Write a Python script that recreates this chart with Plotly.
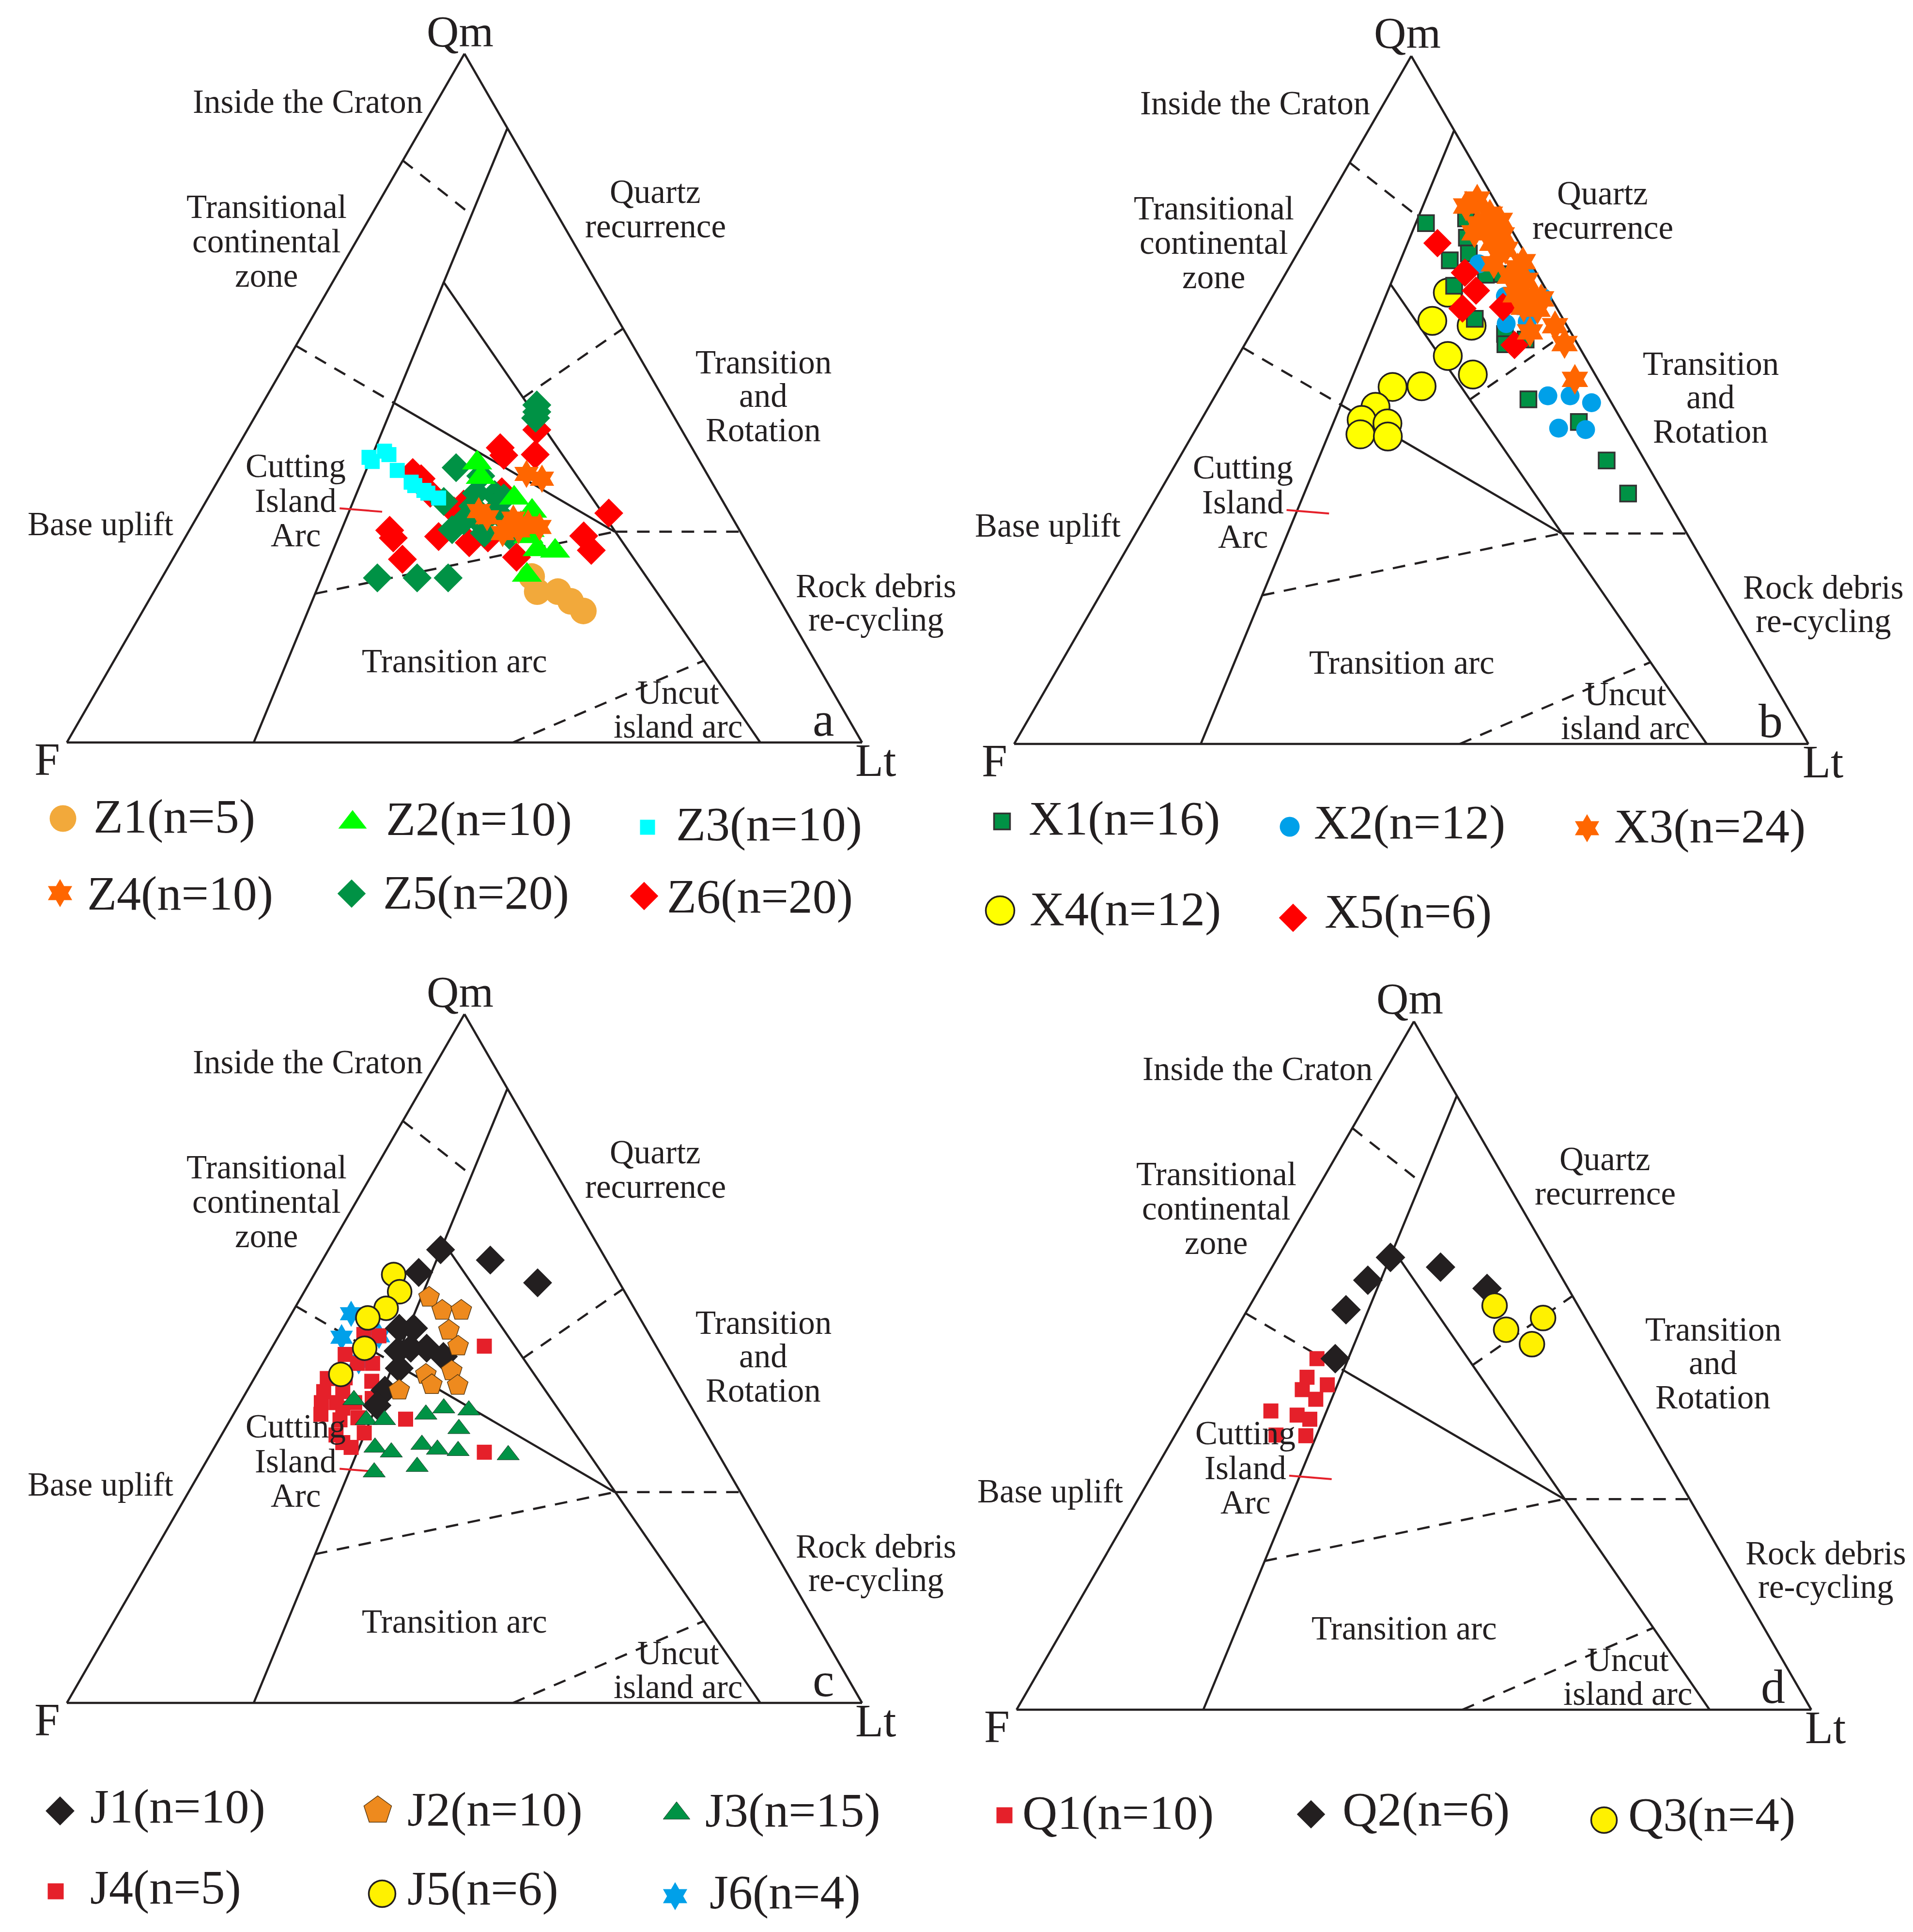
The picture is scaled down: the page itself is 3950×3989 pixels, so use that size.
import math
import plotly.graph_objects as go

W, H = 3950, 3989
FONT = "Liberation Serif"
INK = "#231f20"

# ---------------- data: Qm, F, Lt (%) ----------------
# panel a
Z1_Qm = [24.1, 21.9, 21.9, 20.5, 19.1]
Z1_F = [29.5, 29.9, 27.3, 26.4, 25.5]
Z1_Lt = [46.4, 48.2, 50.8, 53.1, 55.4]

Z2_Qm = [40.6, 38.5, 35.5, 33.6, 29.9, 28.0, 27.8, 24.3, 31.8, 30.8]
Z2_F = [28.1, 28.7, 26.0, 24.7, 27.0, 26.8, 24.7, 30.0, 27.0, 26.4]
Z2_Lt = [31.3, 32.8, 38.5, 41.7, 43.1, 45.2, 47.5, 45.7, 41.2, 42.8]

Z3_Qm = [41.4, 42.3, 39.5, 37.8, 36.6, 35.5, 40.8, 41.8, 37.3, 36.2]
Z3_F = [41.3, 38.9, 38.7, 37.8, 36.8, 35.5, 41.2, 38.6, 37.6, 36.5]
Z3_Lt = [17.3, 18.8, 21.8, 24.4, 26.6, 29.0, 18.0, 19.6, 25.1, 27.3]

Z4_Qm = [39.0, 38.3, 33.6, 32.5, 31.3, 31.8, 31.3, 30.4, 30.8, 32.7]
Z4_F = [22.7, 21.1, 31.4, 27.6, 29.1, 26.1, 24.9, 30.0, 27.8, 30.8]
Z4_Lt = [38.3, 40.6, 35.0, 39.9, 39.6, 42.1, 43.8, 39.6, 41.4, 36.5]

Z5_Qm = [49.0, 47.1, 39.9, 38.7, 36.2, 36.0, 35.0, 33.6, 30.9, 31.8,
         30.1, 23.9, 23.9, 23.9, 34.3, 35.5, 30.4, 32.2, 32.2, 48.0]
Z5_F = [16.4, 17.5, 31.1, 28.6, 30.4, 28.2, 35.1, 29.5, 36.1, 32.0,
        29.3, 49.0, 44.0, 40.1, 31.8, 27.3, 32.3, 34.0, 28.7, 16.9]
Z5_Lt = [34.6, 35.4, 29.0, 32.7, 33.4, 35.8, 29.9, 36.9, 33.0, 36.2,
         40.6, 27.1, 32.1, 36.0, 33.9, 37.2, 37.3, 33.8, 39.1, 35.1]

Z6_Qm = [45.4, 42.8, 41.7, 41.8, 39.2, 36.2, 34.6, 36.4, 33.3, 30.8,
         29.7, 29.9, 29.0, 29.7, 26.6, 26.9, 30.0, 27.9, 38.3, 33.6]
Z6_F = [18.2, 24.1, 24.2, 20.2, 36.9, 36.2, 32.8, 27.1, 15.2, 44.0,
        44.1, 38.3, 34.9, 32.2, 44.5, 30.0, 20.0, 20.1, 36.3, 34.5]
Z6_Lt = [36.4, 33.1, 34.1, 38.0, 23.9, 27.6, 32.6, 36.5, 51.5, 25.2,
         26.2, 31.8, 36.1, 38.1, 28.9, 43.1, 50.0, 52.0, 25.4, 31.9]

# panel b
X1_Qm = [75.7, 76.4, 73.6, 71.3, 70.3, 66.6, 61.8, 59.6, 58.1, 58.8, 68.3, 50.1, 46.8, 41.2, 36.4, 68.2]
X1_F = [10.3, 4.9, 6.2, 7.1, 10.0, 11.3, 11.1, 8.4, 9.1, 6.2, 4.7, 10.2, 5.5, 4.8, 4.5, 6.5]
X1_Lt = [14.0, 18.7, 20.2, 21.6, 19.7, 22.1, 27.1, 32.0, 32.8, 35.0, 27.0, 39.7, 47.7, 54.0, 59.1, 25.3]

X2_Qm = [69.8, 65.1, 68.2, 64.9, 61.1, 61.4, 50.6, 50.6, 49.6, 45.9, 45.7, 63.7]
X2_F = [6.6, 5.6, 1.5, 1.0, 7.5, 4.7, 7.5, 4.7, 2.5, 8.5, 5.2, 4.7]
X2_Lt = [23.6, 29.3, 30.3, 34.1, 31.4, 33.9, 41.9, 44.7, 47.9, 45.6, 49.1, 31.6]

X3_Qm = [79.2, 78.2, 77.0, 75.6, 74.3, 74.8, 72.8, 71.9, 69.8, 68.0, 70.1, 67.4,
         65.3, 65.1, 63.2, 63.5, 59.9, 60.8, 58.2, 53.0, 76.1, 74.0, 69.2, 64.7]
X3_F = [2.1, 4.0, 1.6, 3.8, 4.9, 2.7, 3.4, 2.2, 4.7, 3.6, 0.9, 1.9,
        4.2, 2.0, 2.5, 4.1, 5.1, 1.5, 1.6, 2.9, 0.8, 1.6, 2.0, 1.3]
X3_Lt = [18.7, 17.8, 21.4, 20.6, 20.8, 22.5, 23.8, 25.9, 25.5, 28.4, 29.0, 30.7,
         30.5, 32.9, 34.3, 32.4, 35.0, 37.7, 40.2, 44.1, 23.1, 24.4, 28.8, 34.0]

X4_Qm = [65.6, 61.5, 60.8, 56.4, 53.7, 51.9, 52.0, 49.0, 47.1, 46.6, 45.0, 44.7]
X4_F = [12.6, 16.6, 12.0, 17.2, 15.4, 26.4, 22.7, 30.0, 32.7, 29.7, 33.9, 30.6]
X4_Lt = [21.8, 21.9, 27.2, 26.4, 30.9, 21.7, 25.3, 21.0, 20.2, 23.7, 21.1, 24.7]

X5_Qm = [72.8, 68.5, 65.9, 63.3, 63.5, 58.0]
X5_F = [10.3, 9.0, 8.9, 11.9, 6.7, 8.0]
X5_Lt = [16.9, 22.5, 25.2, 24.8, 29.8, 34.0]

# panel c
J1_Qm = [65.8, 64.3, 61.0, 62.5, 54.4, 54.4, 51.1, 51.5, 51.5, 50.3, 48.6, 45.4, 43.2]
J1_F = [20.1, 14.6, 10.3, 24.5, 31.0, 29.2, 32.8, 31.0, 29.0, 27.5, 33.9, 37.3, 39.4]
J1_Lt = [14.1, 21.1, 28.7, 13.0, 14.6, 16.4, 16.1, 17.5, 19.5, 22.2, 17.5, 17.3, 17.4]

J2_Qm = [58.9, 57.0, 57.0, 54.1, 51.8, 47.7, 48.2, 46.2, 46.1, 45.4]
J2_F = [25.0, 24.3, 21.9, 24.9, 24.9, 31.0, 27.5, 31.0, 27.8, 35.5]
J2_Lt = [16.1, 18.7, 21.1, 21.0, 23.3, 21.3, 24.3, 22.8, 26.1, 19.1]

J3_Qm = [44.0, 41.1, 41.1, 41.9, 42.8, 42.5, 39.8, 37.1, 36.4, 37.5, 36.8, 36.6, 36.0, 34.3, 33.5]
J3_F = [41.9, 41.8, 39.5, 33.9, 31.2, 28.2, 30.8, 42.7, 41.0, 36.6, 35.0, 32.5, 26.5, 38.8, 44.6]
J3_Lt = [14.1, 17.1, 19.4, 24.2, 26.0, 29.3, 29.4, 20.2, 22.6, 25.9, 28.2, 30.9, 37.5, 26.9, 21.9]

J4_Qm = [53.5, 53.3, 50.6, 49.3, 49.3, 47.1, 47.2, 43.6, 43.6, 43.6, 41.9, 41.1, 41.4,
         38.9, 37.1, 41.2, 51.8, 36.4, 46.7, 45.2, 42.8, 39.2, 45.2, 44.2, 37.8]
J4_F = [35.9, 34.1, 39.7, 38.8, 36.9, 43.7, 41.4, 46.2, 44.3, 42.0, 47.1, 45.1, 42.7,
        46.7, 45.7, 36.8, 21.6, 29.3, 38.3, 42.7, 43.9, 43.0, 45.1, 39.5, 46.4]
J4_Lt = [10.6, 12.6, 9.7, 11.9, 13.8, 9.2, 11.4, 10.2, 12.1, 14.4, 11.0, 13.8, 15.9,
         14.4, 17.2, 22.0, 26.6, 34.3, 15.0, 12.1, 13.3, 17.8, 9.7, 16.3, 15.8]

J5_Qm = [62.2, 59.7, 57.3, 55.9, 51.5, 47.7]
J5_F = [27.8, 28.3, 31.2, 34.2, 36.8, 41.7]
J5_Lt = [10.0, 12.0, 11.5, 9.9, 11.7, 10.6]

J6_Qm = [56.5, 53.1, 53.3, 49.6]
J6_F = [36.0, 38.9, 34.1, 38.5]
J6_Lt = [7.5, 8.0, 12.6, 11.9]

# panel d
Q1_Qm = [51.0, 48.3, 47.2, 46.5, 45.1, 43.4, 42.8, 42.2, 39.9, 39.8]
Q1_F = [36.7, 39.3, 37.3, 40.8, 39.8, 46.3, 43.3, 42.0, 47.4, 43.7]
Q1_Lt = [12.3, 12.4, 15.5, 12.7, 15.1, 10.3, 13.9, 15.8, 12.7, 16.5]

Q2_Qm = [65.7, 62.4, 58.1, 51.0, 64.3, 61.2]
Q2_F = [20.1, 24.6, 29.5, 34.4, 14.5, 10.2]
Q2_Lt = [14.2, 13.0, 12.4, 14.6, 21.2, 28.6]

Q3_Qm = [58.7, 56.9, 55.2, 53.1]
Q3_F = [10.5, 5.3, 10.8, 8.6]
Q3_Lt = [30.8, 37.8, 34.0, 38.3]

# ---------------- field boundaries of the Qm-F-Lt template (%) ----------------
BND_QM = [[89.2, 0.0], [66.9, 0.0], [49.3, 30.6], [57.6, 49.3], [30.6, 30.6],
          [84.5, 76.6], [50.0, 60.1], [21.6, 30.6], [0.0, 11.9]]
BND_F = [[0.0, 76.5], [19.2, 12.8], [34.2, 15.8], [42.4, 34.2], [15.8, 0.0],
         [15.5, 10.8], [17.7, 0.0], [58.0, 15.8], [43.9, 13.9]]
BND_LT = [[10.8, 23.5], [13.9, 87.2], [16.5, 53.6], [0.0, 16.5], [53.6, 69.4],
          [0.0, 12.6], [32.3, 39.9], [20.4, 53.6], [56.1, 74.2]]
BND_DASHED = [False, False, False, True, True, True, True, True, True]

POINTER_QM = [34.0, 33.5]
POINTER_F = [48.7, 43.6]
POINTER_LT = [17.3, 22.9]

# ---------------- layout constants ----------------
PANELS = {
    "a": dict(key="ternary", F=(130, 1525), S=1642),
    "b": dict(key="ternary2", F=(2086, 1528), S=1640),
    "c": dict(key="ternary3", F=(130, 3508), S=1642),
    "d": dict(key="ternary4", F=(2091, 3522), S=1641),
}

# series: name, data, symbol, plot size, color, outline color, outline width,
#         legend marker position, legend text position, legend marker size
SERIES = {
    "a": [
        ("Z1(n=5)", (Z1_Qm, Z1_F, Z1_Lt), "circle", 55, "#F2A93B", None, 0, (122, 1682), (183, 1677), 55),
        ("Z6(n=20)", (Z6_Qm, Z6_F, Z6_Lt), "diamond", 46, "#FF0000", None, 0, (1322, 1842), (1367, 1842), 45),
        ("Z5(n=20)", (Z5_Qm, Z5_F, Z5_Lt), "diamond", 46, "#009245", None, 0, (718, 1837), (781, 1835), 45),
        ("Z3(n=10)", (Z3_Qm, Z3_F, Z3_Lt), "square", 31, "#00FFFF", None, 0, (1329, 1700), (1386, 1693), 31),
        ("Z2(n=10)", (Z2_Qm, Z2_F, Z2_Lt), "triangle-up", 54, "#00FF00", None, 0, (720, 1690), (787, 1683), 51),
        ("Z4(n=10)", (Z4_Qm, Z4_F, Z4_Lt), "hexagram", 44, "#FF6600", None, 0, (116, 1836), (170, 1836), 44),
    ],
    "b": [
        ("X4(n=12)", (X4_Qm, X4_F, X4_Lt), "circle", 58, "#FFFF00", INK, 3.5, (2057, 1872), (2116, 1868), 59),
        ("X1(n=16)", (X1_Qm, X1_F, X1_Lt), "square", 33, "#009245", "#333333", 3.5, (2061, 1688), (2114, 1681), 33),
        ("X2(n=12)", (X2_Qm, X2_F, X2_Lt), "circle", 39, "#00A0E9", None, 0, (2655, 1699), (2703, 1689), 41),
        ("X5(n=6)", (X5_Qm, X5_F, X5_Lt), "diamond", 45, "#FF0000", None, 0, (2662, 1887), (2725, 1873), 45),
        ("X3(n=24)", (X3_Qm, X3_F, X3_Lt), "hexagram", 48, "#FF6600", None, 0, (3269, 1702), (3323, 1697), 44),
    ],
    "c": [
        ("J6(n=4)", (J6_Qm, J6_F, J6_Lt), "hexagram", 41, "#00A0E9", None, 0, (1386, 3907), (1455, 3898), 44),
        ("J4(n=5)", (J4_Qm, J4_F, J4_Lt), "square", 31, "#E5202A", None, 0, (107, 3897), (176, 3888), 33),
        ("J5(n=6)", (J5_Qm, J5_F, J5_Lt), "circle", 49, "#FFF100", INK, 3.5, (781, 3902), (831, 3890), 55),
        ("J1(n=10)", (J1_Qm, J1_F, J1_Lt), "diamond", 46, INK, None, 0, (116, 3731), (176, 3721), 46),
        ("J2(n=10)", (J2_Qm, J2_F, J2_Lt), "pentagon", 45, "#EE8A1E", "#5a3a12", 1.5, (772, 3730), (831, 3727), 60),
        ("J3(n=15)", (J3_Qm, J3_F, J3_Lt), "triangle-up", 40, "#009245", "#1d3b2a", 1, (1389, 3736), (1446, 3729), 48),
    ],
    "d": [
        ("Q1(n=10)", (Q1_Qm, Q1_F, Q1_Lt), "square", 31, "#E5202A", None, 0, (2066, 3740), (2101, 3734), 33),
        ("Q2(n=6)", (Q2_Qm, Q2_F, Q2_Lt), "diamond", 47, INK, None, 0, (2699, 3738), (2762, 3727), 45),
        ("Q3(n=4)", (Q3_Qm, Q3_F, Q3_Lt), "circle", 51, "#FFF100", INK, 3.5, (3304, 3750), (3352, 3738), 53),
    ],
}

# text labels of the template, offsets from the F corner (px)
LABELS = [
    ("Qm", 812, -1468, 92),
    ("Inside the Craton", 497, -1323, 69),
    ("Transitional", 412, -1106, 69), ("continental", 412, -1035, 69), ("zone", 412, -964, 69),
    ("Quartz", 1215, -1137, 69), ("recurrence", 1215, -1066, 69),
    ("Transition", 1438, -785, 69), ("and", 1438, -716, 69), ("Rotation", 1438, -645, 69),
    ("Cutting", 472, -571, 69), ("Island", 472, -499, 69), ("Arc", 472, -428, 69),
    ("Base uplift", 69, -451, 69),
    ("Rock debris", 1671, -323, 69), ("re-cycling", 1671, -254, 69),
    ("Transition arc", 800, -168, 69),
    ("Uncut", 1262, -103, 69), ("island arc", 1262, -33, 69),
    ("F", -41, 35, 95), ("Lt", 1670, 37, 95),
]
LETTER_OFFSET = (1562, -48, 100)

LINE_W = 4.5
DASH = "26px,20px"

# ---------------- build figure ----------------
fig = go.Figure()

axis_style = dict(showline=True, linecolor=INK, linewidth=LINE_W, showgrid=False,
                  showticklabels=False, ticks="", title=dict(text=""), min=0,
                  layer="below traces")


def tern_domain(Fx, Fy, S):
    h = S * math.sqrt(3) / 2
    return dict(x=[Fx / W, (Fx + S) / W], y=[1 - Fy / H, 1 - (Fy - h) / H])


annotations = []


def add_text(text, px, py, size, xanchor="center"):
    annotations.append(dict(text=text, x=px / W, y=1 - py / H, xref="paper", yref="paper",
                            showarrow=False, xanchor=xanchor, yanchor="middle",
                            font=dict(family=FONT, size=size, color=INK)))


for letter, P in PANELS.items():
    key = P["key"]
    Fx, Fy = P["F"]
    S = P["S"]
    fig.update_layout({key: dict(domain=tern_domain(Fx, Fy, S), sum=100,
                                 bgcolor="rgba(0,0,0,0)",
                                 aaxis=axis_style, baxis=axis_style, caxis=axis_style)})
    # field boundaries
    for qm, f, lt, dashed in zip(BND_QM, BND_F, BND_LT, BND_DASHED):
        fig.add_trace(go.Scatterternary(
            a=qm, b=f, c=lt, mode="lines", subplot=key, showlegend=False,
            hoverinfo="skip", cliponaxis=False,
            line=dict(color=INK, width=LINE_W, dash=DASH if dashed else "solid")))
    fig.add_trace(go.Scatterternary(
        a=POINTER_QM, b=POINTER_F, c=POINTER_LT, mode="lines", subplot=key,
        showlegend=False, hoverinfo="skip", cliponaxis=False,
        line=dict(color="#E5202A", width=4)))
    # data series
    for (name, (qm, f, lt), sym, size, color, lcol, lw, lpos, tpos, lsize) in SERIES[letter]:
        mline = dict(color=lcol, width=lw) if lcol else dict(width=0)
        fig.add_trace(go.Scatterternary(
            a=qm, b=f, c=lt, mode="markers", subplot=key, name=name, showlegend=False,
            cliponaxis=False,
            marker=dict(symbol=sym, size=size, color=color, line=mline, opacity=1)))
        # legend key (drawn on an overlay pixel axis)
        fig.add_trace(go.Scatter(
            x=[lpos[0]], y=[lpos[1]], mode="markers", showlegend=False, hoverinfo="skip",
            xaxis="x", yaxis="y", cliponaxis=False,
            marker=dict(symbol=sym, size=lsize, color=color, line=mline)))
        add_text(name, tpos[0], tpos[1], 100, xanchor="left")
    # template labels
    for text, dx, dy, size in LABELS:
        add_text(text, Fx + dx, Fy + dy, size)
    add_text(letter, Fx + LETTER_OFFSET[0], Fy + LETTER_OFFSET[1], LETTER_OFFSET[2])

fig.update_layout(
    width=W, height=H, autosize=False,
    margin=dict(l=0, r=0, t=0, b=0, pad=0),
    paper_bgcolor="white", plot_bgcolor="rgba(0,0,0,0)",
    showlegend=False,
    xaxis=dict(domain=[0, 1], range=[0, W], visible=False, fixedrange=True),
    yaxis=dict(domain=[0, 1], range=[H, 0], visible=False, fixedrange=True),
    annotations=annotations,
    font=dict(family=FONT, color=INK),
)

fig.write_html("out.html")
